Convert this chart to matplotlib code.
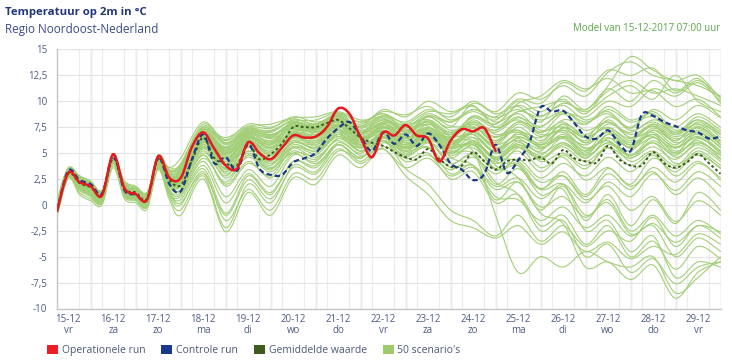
import numpy as np
import matplotlib
matplotlib.use("Agg")
import matplotlib.pyplot as plt
from matplotlib.path import Path
from matplotlib.patches import PathPatch, Patch

plt.rcParams['font.family'] = ['Open Sans', 'DejaVu Sans']

# ---------------- data ----------------
dates = ["15-12", "16-12", "17-12", "18-12", "19-12", "20-12", "21-12", "22-12",
         "23-12", "24-12", "25-12", "26-12", "27-12", "28-12", "29-12"]
weekdays = ["vr", "za", "zo", "ma", "di", "wo", "do", "vr",
            "za", "zo", "ma", "di", "wo", "do", "vr"]
y_ticks = [15, 12.5, 10, 7.5, 5, 2.5, 0, -2.5, -5, -7.5, -10]
y_labels = ["15", "12,5", "10", "7,5", "5", "2,5", "0", "-2,5", "-5", "-7,5", "-10"]

# hours since 15-12 00:00
hours = np.arange(6, 361, 6)

operational = [-0.6, 3.1, 2.2, 1.8, 0.9, 4.9, 1.6, 1.05, 0.5, 4.7, 2.6, 2.6,
               5.6, 7.0, 5.4, 3.8, 3.5, 6.05, 5.0, 4.4, 5.5, 6.7, 6.5, 6.6,
               7.5, 9.3, 8.8, 6.5, 4.6, 7.0, 6.7, 7.7, 6.7, 6.4, 4.2, 6.2,
               7.3, 7.1, 7.4, 5.2]

control = [-0.5, 3.3, 2.4, 2.0, 1.1, 4.7, 1.4, 1.0, 0.5, 4.6, 2.0, 1.3,
           4.4, 6.8, 4.0, 4.6, 3.3, 5.9, 3.5, 2.9, 2.9, 4.1, 4.5, 5.0,
           6.4, 7.4, 8.0, 6.6, 5.2, 7.0, 5.9, 6.8, 5.7, 6.9, 5.8, 4.0,
           3.4, 2.4, 3.0, 5.8, 3.1, 4.3, 6.0, 9.4, 9.0, 9.1, 7.9, 6.6,
           6.4, 7.2, 5.9, 5.2, 8.7, 8.6, 8.0, 7.6, 7.2, 7.0, 6.4, 6.6]

ens_mean = [-0.5, 3.0, 2.1, 1.7, 1.0, 4.5, 1.6, 1.2, 0.6, 4.4, 2.4, 1.9,
            4.3, 6.5, 4.5, 4.0, 3.8, 5.8, 4.4, 4.9, 5.9, 7.5, 7.5, 7.5,
            7.9, 8.2, 7.4, 6.5, 6.0, 5.7, 5.1, 4.6, 4.4, 5.4, 4.4, 3.7,
            3.8, 5.1, 4.2, 3.4, 4.2, 4.4, 4.3, 4.6, 4.0, 5.3, 4.5, 4.2,
            4.1, 5.7, 4.4, 3.8, 3.8, 5.1, 4.0, 3.6, 4.1, 4.9, 4.0, 3.0]

# scenario times: 6-hourly up to 18-12 00:00, then 12-hourly
scen_hours = [6, 12, 18, 24, 30, 36, 42, 48, 54, 60, 66, 72, 84, 96, 108, 120,
              132, 144, 156, 168, 180, 192, 204, 216, 228, 240, 252, 264, 276,
              288, 300, 312, 324, 336, 348, 360]

scenarios = [
    [-0.3, 3.2, 2.5, 1.9, 1.1, 4.6, 1.9, 1.3, 0.8, 4.5, 3.0, 3.5, 7.5, 5.8, 7.2, 7.0, 8.2, 7.8, 8.8, 7.5, 8.6, 8.0, 9.2, 8.5, 10.0, 9.0, 10.8, 10.2, 11.5, 10.5, 12.8, 13.8, 12.5, 12.0, 11.5, 10.5],
    [-0.6, 3.0, 2.2, 1.6, 0.8, 4.8, 1.5, 1.0, 0.4, 4.6, 2.8, 3.0, 7.0, 5.0, 6.8, 6.5, 8.0, 8.2, 8.9, 8.0, 9.0, 8.7, 9.5, 8.2, 9.2, 8.5, 10.2, 9.8, 11.8, 11.0, 13.0, 12.5, 13.2, 11.0, 12.2, 9.8],
    [0.2, 3.5, 2.7, 2.2, 1.3, 4.9, 2.1, 1.6, 1.0, 4.8, 3.4, 4.0, 7.8, 6.2, 7.5, 7.4, 8.5, 8.0, 8.4, 7.8, 8.8, 7.2, 8.5, 7.5, 9.8, 8.8, 9.5, 8.0, 10.5, 9.2, 11.2, 10.0, 12.0, 10.8, 12.0, 10.4],
    [-0.8, 2.8, 1.8, 1.2, 0.5, 4.3, 1.2, 0.8, 0.2, 4.2, 2.5, 2.8, 6.5, 4.8, 6.9, 6.0, 7.8, 7.5, 8.2, 7.0, 8.0, 7.8, 9.0, 8.8, 9.5, 8.0, 9.0, 9.5, 10.0, 9.0, 10.5, 11.5, 10.2, 12.5, 10.0, 9.0],
    [-0.2, 3.3, 2.5, 2.0, 1.1, 4.5, 1.8, 1.4, 0.9, 4.4, 3.3, 3.8, 7.2, 6.5, 7.6, 7.8, 8.4, 8.5, 9.0, 8.2, 8.4, 7.0, 8.0, 6.8, 8.5, 7.8, 9.8, 10.5, 12.0, 11.2, 12.2, 10.8, 11.0, 9.5, 10.2, 8.5],
    [-0.4, 3.1, 2.3, 1.7, 0.9, 4.7, 1.7, 1.2, 0.6, 4.7, 2.9, 3.2, 6.8, 5.5, 7.0, 7.2, 8.0, 7.2, 8.6, 7.6, 9.2, 8.5, 10.0, 9.0, 9.6, 7.5, 8.2, 7.0, 8.8, 8.5, 10.0, 9.5, 11.2, 10.5, 11.8, 10.0],
    [0.5, 3.6, 2.8, 2.3, 1.4, 4.4, 2.3, 1.8, 1.2, 4.0, 3.6, 4.5, 8.0, 6.0, 7.4, 6.8, 7.6, 7.0, 8.0, 6.5, 7.5, 6.8, 8.2, 7.0, 8.0, 7.2, 9.0, 8.5, 9.8, 9.2, 11.0, 12.0, 10.8, 11.2, 10.5, 9.6],
    [-1.0, 2.7, 1.6, 1.0, 0.3, 4.2, 1.0, 0.6, 0.1, 4.3, 2.2, 2.5, 6.2, 4.5, 6.5, 5.8, 7.5, 7.8, 8.5, 7.2, 8.2, 7.5, 8.8, 8.0, 9.0, 8.2, 10.0, 9.0, 10.2, 8.8, 11.5, 14.3, 13.0, 12.0, 12.5, 10.2],
    [-0.5, 3.0, 2.1, 1.5, 0.8, 4.5, 1.6, 1.1, 0.5, 4.5, 2.6, 2.8, 6.8, 4.8, 6.5, 5.5, 7.2, 7.0, 8.0, 6.2, 7.2, 5.8, 6.8, 5.5, 7.0, 5.8, 7.5, 6.2, 7.8, 6.0, 8.2, 6.5, 7.8, 6.2, 8.0, 6.5],
    [-0.7, 2.9, 2.0, 1.3, 0.6, 4.4, 1.4, 0.9, 0.3, 4.4, 2.2, 2.2, 6.0, 3.8, 6.0, 4.8, 6.8, 6.5, 7.8, 6.8, 7.8, 6.5, 7.2, 5.0, 6.2, 4.5, 6.0, 5.2, 7.5, 6.5, 8.5, 7.5, 9.0, 7.2, 8.2, 6.8],
    [-0.1, 3.3, 2.6, 2.0, 1.2, 4.8, 2.0, 1.5, 1.0, 4.6, 3.2, 3.6, 7.4, 6.0, 7.0, 6.8, 7.5, 7.4, 8.6, 6.5, 6.8, 5.5, 7.0, 6.0, 5.5, 4.2, 5.8, 4.8, 6.5, 5.2, 7.2, 5.8, 6.8, 5.0, 6.2, 4.5],
    [-0.9, 2.8, 1.7, 1.1, 0.4, 4.2, 1.2, 0.7, 0.2, 4.1, 2.0, 1.8, 5.5, 3.2, 5.8, 4.5, 7.0, 7.2, 8.2, 7.0, 8.5, 7.0, 7.8, 6.5, 8.2, 6.8, 7.2, 5.5, 6.8, 5.2, 6.5, 4.8, 6.2, 5.0, 7.0, 5.5],
    [-0.3, 3.1, 2.4, 1.8, 1.0, 4.6, 1.7, 1.2, 0.7, 4.5, 2.8, 3.0, 7.0, 5.2, 6.8, 6.2, 7.6, 7.5, 8.3, 7.2, 7.0, 6.0, 6.2, 4.0, 5.0, 3.5, 5.5, 4.5, 6.0, 4.8, 6.8, 5.5, 7.2, 5.8, 7.5, 6.0],
    [-0.6, 3.0, 2.0, 1.4, 0.7, 4.6, 1.5, 1.0, 0.4, 4.4, 2.5, 2.6, 6.4, 4.5, 6.6, 5.8, 7.4, 7.0, 8.0, 6.0, 7.8, 6.8, 8.5, 7.2, 7.8, 6.5, 8.0, 7.5, 9.0, 7.8, 9.5, 8.2, 8.8, 7.0, 8.5, 7.2],
    [0.0, 3.4, 2.6, 2.1, 1.3, 4.7, 2.1, 1.6, 1.1, 4.6, 3.1, 3.4, 7.2, 5.6, 7.3, 6.5, 7.8, 6.8, 7.6, 5.8, 6.5, 5.2, 6.8, 5.8, 7.5, 6.2, 8.0, 6.8, 7.0, 5.5, 6.2, 4.2, 5.2, 3.8, 5.5, 4.2],
    [-0.4, 3.2, 2.3, 1.7, 1.0, 4.5, 1.8, 1.3, 0.8, 4.6, 2.9, 3.1, 6.9, 5.0, 6.2, 5.0, 6.5, 5.8, 7.2, 6.2, 7.5, 6.0, 7.0, 5.8, 6.8, 5.0, 6.5, 5.8, 7.2, 6.2, 7.8, 7.0, 8.2, 7.5, 8.8, 7.5],
    [-0.8, 2.8, 1.8, 1.2, 0.4, 4.3, 1.3, 0.8, 0.2, 4.2, 2.1, 2.0, 5.8, 3.5, 5.5, 4.2, 6.2, 6.0, 7.5, 6.8, 8.0, 7.2, 8.0, 6.2, 7.0, 5.5, 6.8, 6.0, 7.8, 6.8, 8.0, 6.5, 7.0, 5.5, 6.5, 5.0],
    [-0.2, 3.2, 2.5, 1.9, 1.1, 4.8, 1.9, 1.4, 0.9, 4.7, 3.1, 3.3, 7.1, 5.4, 7.1, 6.6, 8.0, 7.6, 8.7, 7.4, 8.3, 7.0, 8.6, 7.6, 7.4, 5.5, 6.2, 4.2, 5.0, 3.8, 5.5, 4.5, 6.0, 4.0, 4.8, 3.6],
    [-0.5, 3.0, 2.1, 1.5, 0.7, 4.4, 1.5, 1.0, 0.5, 4.3, 2.4, 2.4, 6.3, 4.2, 6.4, 5.6, 7.2, 7.3, 8.4, 7.6, 8.6, 7.5, 7.6, 5.5, 6.5, 5.2, 7.0, 6.5, 8.2, 7.8, 9.2, 8.0, 8.5, 6.8, 7.8, 6.2],
    [-0.7, 2.9, 1.9, 1.3, 0.6, 4.5, 1.4, 0.9, 0.4, 4.5, 2.5, 2.7, 6.6, 4.9, 6.7, 5.9, 7.7, 7.4, 8.1, 6.4, 7.2, 5.5, 6.0, 4.5, 5.8, 4.0, 5.2, 3.2, 4.8, 3.5, 5.8, 4.8, 6.5, 5.2, 6.0, 4.8],
    [0.3, 3.5, 2.8, 2.2, 1.4, 4.6, 2.2, 1.7, 1.2, 4.4, 3.6, 3.9, 7.6, 6.3, 7.8, 7.5, 8.3, 7.8, 8.5, 7.0, 7.6, 6.2, 7.4, 6.8, 8.4, 7.5, 8.8, 7.2, 7.5, 6.0, 7.0, 5.5, 6.5, 5.5, 7.2, 5.8],
    [-0.6, 2.9, 2.0, 1.4, 0.6, 4.3, 1.4, 0.9, 0.3, 4.1, 1.8, 1.5, 5.0, 2.8, 5.2, 3.8, 6.0, 5.5, 7.0, 6.0, 7.2, 6.4, 7.8, 7.0, 8.0, 7.2, 8.5, 7.0, 8.0, 6.5, 7.5, 6.2, 7.8, 6.8, 8.2, 7.0],
    [-0.3, 3.1, 2.4, 1.8, 1.0, 4.7, 1.7, 1.2, 0.7, 4.6, 2.9, 3.2, 7.0, 5.5, 7.0, 6.4, 7.4, 6.6, 7.4, 5.5, 6.5, 5.0, 6.2, 5.6, 7.2, 6.6, 7.0, 5.6, 6.4, 4.8, 6.0, 5.2, 7.2, 6.2, 7.6, 5.8],
    [-0.9, 2.7, 1.6, 1.0, 0.3, 4.2, 1.0, 0.6, 0.0, 4.0, 1.5, 1.2, 4.5, 2.2, 4.8, 3.5, 5.8, 5.2, 6.8, 5.6, 6.8, 5.8, 7.0, 6.0, 7.4, 6.2, 7.2, 5.8, 6.6, 5.0, 6.8, 5.8, 7.4, 6.4, 7.0, 5.6],
    [-0.4, 3.2, 2.2, 1.6, 0.8, 4.6, 1.6, 1.1, 0.6, 4.5, 2.7, 2.9, 6.7, 5.1, 6.9, 6.1, 7.9, 7.7, 8.8, 8.0, 8.8, 7.8, 8.2, 6.6, 6.8, 5.0, 5.8, 4.6, 5.6, 4.2, 5.5, 3.8, 5.0, 3.5, 5.2, 3.8],
    [-0.1, 3.3, 2.6, 2.0, 1.2, 4.8, 2.0, 1.5, 1.0, 4.8, 3.3, 3.7, 7.3, 5.9, 7.4, 7.1, 8.1, 7.3, 8.0, 6.6, 7.0, 5.8, 7.2, 6.4, 7.8, 7.0, 8.4, 7.6, 8.8, 7.2, 8.0, 6.8, 7.6, 6.0, 6.8, 5.2],
    [-0.6, 3.0, 2.1, 1.5, 0.7, 4.5, 1.5, 1.0, 0.5, 4.4, 2.4, 2.5, 6.5, 4.6, 6.3, 5.4, 6.9, 6.4, 7.6, 6.2, 7.4, 6.5, 7.5, 6.2, 6.8, 5.2, 6.4, 5.0, 6.0, 4.5, 6.4, 5.6, 6.8, 5.6, 6.6, 5.0],
    [-0.5, 3.1, 2.2, 1.6, 0.8, 4.6, 1.6, 1.1, 0.6, 4.5, 2.8, 3.0, 6.9, 5.3, 7.2, 6.7, 7.9, 7.1, 7.8, 6.8, 8.0, 7.4, 8.6, 8.0, 9.2, 8.4, 9.2, 8.2, 9.0, 8.0, 8.8, 7.2, 8.0, 7.0, 7.8, 6.8],
    [-0.2, 3.2, 2.4, 1.8, 1.0, 4.5, 1.8, 1.3, 0.8, 4.3, 2.7, 2.8, 6.2, 4.2, 5.8, 4.6, 6.4, 6.2, 7.6, 6.8, 7.9, 6.6, 6.8, 5.2, 6.0, 4.6, 6.2, 5.4, 6.6, 5.8, 7.0, 6.0, 6.6, 4.6, 5.8, 4.4],
    [-0.8, 2.8, 1.8, 1.2, 0.5, 4.4, 1.3, 0.8, 0.3, 4.3, 2.3, 2.3, 6.1, 4.0, 6.1, 5.2, 7.0, 6.8, 8.0, 7.0, 8.2, 7.2, 8.0, 6.8, 7.6, 6.0, 7.8, 6.6, 7.2, 5.4, 6.2, 4.6, 5.6, 4.4, 6.0, 4.8],
    [-0.4, 3.1, 2.3, 1.7, 0.9, 4.7, 1.7, 1.2, 0.7, 4.6, 2.9, 3.1, 6.8, 5.2, 6.6, 5.5, 6.6, 6.0, 7.0, 5.2, 6.2, 4.8, 6.4, 5.6, 7.0, 5.8, 6.6, 5.8, 7.4, 6.6, 7.4, 6.4, 7.6, 6.6, 7.4, 6.2],
    [-0.3, 3.0, 2.1, 1.5, 0.8, 4.4, 1.5, 1.0, 0.5, 4.2, 2.2, 2.0, 5.6, 3.6, 6.0, 5.0, 6.7, 6.6, 7.7, 6.4, 7.6, 6.2, 7.2, 6.6, 8.6, 7.8, 9.6, 8.6, 9.6, 8.2, 9.0, 7.4, 9.2, 8.2, 9.6, 8.4],
    [-0.5, 3.0, 2.2, 1.6, 0.8, 4.6, 1.6, 1.1, 0.6, 4.4, 2.5, 2.6, 6.4, 4.4, 6.2, 5.2, 7.0, 6.2, 7.2, 5.8, 6.6, 5.4, 6.6, 5.0, 6.2, 4.4, 5.6, 4.4, 5.8, 4.6, 6.0, 4.8, 6.0, 4.8, 6.4, 5.2],
    [-0.7, 2.9, 1.8, 1.2, 0.4, 4.2, 1.1, 0.6, 0.0, 3.8, 1.2, 0.5, 3.5, -0.8, 2.8, 1.0, 4.2, 3.8, 6.0, 5.0, 6.5, 5.5, 6.2, 4.0, 4.8, 2.0, 3.5, 1.5, 3.2, 1.0, 3.5, 2.0, 4.5, 3.2, 5.0, 3.5],
    [-1.0, 2.6, 1.2, 0.6, 0.2, 3.8, 0.8, 0.4, -0.2, 3.5, 0.8, -0.5, 2.8, -2.2, 2.0, 0.2, 3.8, 3.2, 5.8, 4.2, 6.0, 4.8, 5.5, 3.0, 3.8, 0.5, 2.2, -0.5, 1.8, -1.5, 1.0, -2.0, 0.5, -1.8, 1.2, -0.5],
    [-0.9, 2.7, 1.4, 0.8, 0.2, 4.0, 0.9, 0.5, -0.1, 3.6, 1.0, 0.0, 3.2, -1.5, 1.5, -0.5, 3.0, 2.5, 5.2, 4.5, 6.2, 3.5, 2.0, -0.5, -1.5, -3.0, -1.0, -3.5, -2.0, -4.0, -2.5, -3.5, -1.2, -4.0, -2.0, -3.2],
    [-0.6, 3.0, 1.9, 1.3, 0.6, 4.4, 1.4, 0.9, 0.3, 4.0, 1.8, 1.5, 4.8, 1.8, 4.0, 2.8, 5.5, 5.0, 6.8, 5.8, 6.6, 4.5, 5.0, 2.5, 3.2, 0.2, 1.0, -2.0, -1.0, -3.8, -2.0, -5.0, -3.5, -6.2, -4.0, -5.2],
    [-0.4, 3.1, 2.2, 1.6, 0.8, 4.5, 1.5, 1.0, 0.4, 4.3, 2.4, 2.4, 6.0, 3.8, 5.6, 4.0, 5.5, 4.6, 6.2, 4.8, 5.4, 3.6, 4.5, 2.8, 3.6, 1.5, 2.2, -0.2, 0.8, -1.2, 0.5, -2.5, -1.0, -3.0, -1.5, -2.8],
    [-0.8, 2.8, 1.7, 1.1, 0.4, 4.3, 1.2, 0.7, 0.1, 4.0, 1.4, 1.0, 4.2, 0.8, 3.4, 1.8, 4.8, 4.2, 6.4, 5.2, 6.8, 5.6, 6.8, 5.4, 6.0, 3.5, 4.0, 1.5, 2.0, -1.0, 0.2, -2.8, -2.0, -5.0, -3.2, -4.5],
    [-0.5, 3.0, 2.0, 1.4, 0.6, 4.4, 1.3, 0.8, 0.2, 4.1, 2.0, 1.8, 5.2, 2.6, 4.6, 3.2, 5.2, 4.4, 6.4, 5.5, 7.0, 6.2, 7.4, 6.0, 6.5, 4.2, 3.8, 1.0, 1.5, -2.5, -1.5, -4.5, -3.0, -7.0, -5.5, -6.0],
    [-0.7, 2.9, 1.8, 1.2, 0.5, 4.3, 1.3, 0.8, 0.2, 4.2, 2.1, 2.0, 5.4, 3.0, 4.8, 3.4, 5.6, 5.2, 6.6, 5.8, 6.8, 6.0, 6.6, 4.8, 5.2, -1.0, -6.5, -5.0, -6.0, -4.5, -5.5, -6.0, -5.0, -8.5, -7.0, -5.0],
    [-0.3, 3.2, 2.3, 1.7, 0.9, 4.6, 1.7, 1.2, 0.7, 4.4, 2.5, 2.6, 6.0, 4.0, 5.6, 4.4, 6.0, 5.6, 7.0, 6.2, 7.4, 6.4, 7.0, 5.2, 5.0, 2.2, 1.0, -2.5, -1.5, -5.0, -3.8, -6.5, -5.2, -7.6, -6.0, -5.5],
    [-0.6, 3.0, 1.9, 1.3, 0.6, 4.4, 1.4, 0.9, 0.3, 4.3, 2.2, 2.2, 5.8, 3.4, 5.0, 3.6, 5.0, 4.0, 5.8, 4.6, 6.4, 5.6, 6.8, 6.2, 6.2, 4.6, 4.2, 2.2, 2.8, 0.5, 1.8, -0.5, 0.8, -1.6, 0.4, -1.0],
    [-0.9, 2.7, 1.5, 0.9, 0.2, 4.1, 1.0, 0.5, -0.1, 3.7, 1.2, 0.8, 3.8, 0.2, 3.0, 1.2, 4.2, 3.6, 5.8, 4.6, 6.2, 5.2, 6.4, 5.5, 5.8, 3.8, 2.6, -0.8, -1.8, -6.0, -5.5, -7.2, -5.8, -9.0, -6.5, -5.5],
    [-0.2, 3.2, 2.4, 1.8, 1.0, 4.6, 1.8, 1.3, 0.8, 4.5, 2.8, 2.9, 6.4, 4.6, 6.0, 4.8, 6.2, 5.4, 6.8, 5.6, 6.6, 5.2, 5.6, 3.6, 3.8, 1.8, 2.6, 0.6, 2.0, 0.2, 2.2, 0.8, 3.0, 1.4, 3.2, 1.8],
    [-0.5, 3.0, 2.1, 1.5, 0.7, 4.5, 1.5, 1.0, 0.4, 4.2, 2.2, 2.2, 5.6, 3.2, 5.2, 4.0, 6.0, 5.8, 7.2, 6.6, 7.6, 6.8, 7.2, 5.6, 5.8, 3.4, 3.8, 1.6, 2.8, 0.8, 3.0, 1.5, 3.6, 2.2, 4.0, 2.6],
    [-0.7, 2.8, 1.6, 1.0, 0.3, 4.2, 1.1, 0.6, 0.0, 3.9, 1.2, 0.2, 3.0, -1.0, 2.4, 0.6, 3.6, 3.0, 5.4, 4.0, 5.4, 2.8, 1.0, -1.5, -2.2, -3.2, -2.0, -3.8, -2.6, -4.5, -3.6, -5.2, -4.0, -4.8, -2.8, -3.8],
    [-0.4, 3.1, 2.2, 1.6, 0.8, 4.6, 1.6, 1.1, 0.6, 4.4, 2.6, 2.8, 6.6, 5.0, 6.4, 5.8, 7.0, 6.6, 7.6, 6.8, 7.8, 7.0, 7.2, 4.6, 3.8, 0.8, 0.5, -1.5, -0.2, -2.2, -1.0, -3.0, -1.8, -3.6, -2.0, -2.6],
    [-0.6, 2.9, 2.0, 1.4, 0.7, 4.4, 1.5, 1.0, 0.4, 4.2, 1.8, 1.4, 4.8, 2.0, 4.2, 2.6, 5.0, 4.8, 6.6, 5.2, 6.2, 4.2, 4.8, 3.4, 4.6, 3.0, 4.4, 2.6, 4.0, 2.8, 4.6, 3.2, 4.8, 2.8, 4.2, 2.4],
    [-1.1, 2.6, 1.0, 0.4, 0.0, 3.6, 0.6, 0.2, -0.4, 3.4, 0.5, -1.0, 2.5, -2.6, 1.2, -1.0, 2.6, 2.0, 4.8, 3.6, 5.6, 4.6, 6.0, 5.0, 6.0, 4.4, 5.6, 3.6, 4.6, 2.4, 3.6, 1.8, 3.2, 1.0, 2.6, 0.8],
]

legend_labels = ["Operationele run", "Controle run", "Gemiddelde waarde", "50 scenario's"]

# ---------------- styling ----------------
C_RED = '#e5191f'
C_BLUE = '#1d3a87'
C_MEAN = '#3b5a20'
C_SCEN = '#a3cf78'
C_TICK = '#4e5c85'


def spline_path(xs, ys):
    """Cubic Bezier path through the data points (Highcharts-like spline)."""
    xs = np.asarray(xs, float)
    ys = np.asarray(ys, float)
    n = len(xs)
    verts = [(xs[0], ys[0])]
    codes = [Path.MOVETO]
    for i in range(n - 1):
        xp, yp = (xs[i - 1], ys[i - 1]) if i > 0 else (xs[i], ys[i])
        xn, yn = (xs[i + 2], ys[i + 2]) if i + 2 < n else (xs[i + 1], ys[i + 1])
        c1 = (xs[i] + (xs[i + 1] - xp) / 6.0, ys[i] + (ys[i + 1] - yp) / 6.0)
        c2 = (xs[i + 1] - (xn - xs[i]) / 6.0, ys[i + 1] - (yn - ys[i]) / 6.0)
        verts += [c1, c2, (xs[i + 1], ys[i + 1])]
        codes += [Path.CURVE4] * 3
    return Path(verts, codes)


def draw_series(ax, xs, ys, capstyle='round', **kw):
    n = min(len(xs), len(ys))
    patch = PathPatch(spline_path(xs[:n], ys[:n]), fill=False,
                      transform=ax.transData, capstyle=capstyle,
                      joinstyle='round', **kw)
    ax.add_patch(patch)
    return patch


fig = plt.figure(figsize=(7.32, 3.61), dpi=100)
ax = fig.add_axes([57 / 732, 1 - 308.5 / 361, (720.5 - 57) / 732, (308.5 - 49.5) / 361])

ax.set_xlim(6, 360)
ax.set_ylim(-10, 15)

# grid
noon_hours = [24 * i + 12 for i in range(len(dates))]
midnight_hours = [24 * (i + 1) for i in range(len(dates))]
ax.set_xticks(noon_hours)
ax.set_xticklabels([f"{d}\n{w}" for d, w in zip(dates, weekdays)])
ax.set_xticks(hours, minor=True)
ax.set_yticks(y_ticks)
ax.set_yticklabels(y_labels)
ax.grid(which='minor', axis='x', color='#ececec', lw=0.8, zorder=0)
ax.grid(which='major', axis='y', color='#e4e4e4', lw=0.8, zorder=0)
ax.vlines(midnight_hours, -10, 15, colors='#cfcfcf', lw=1.0, zorder=0.5)

for s in ['top', 'right']:
    ax.spines[s].set_visible(False)
for s in ['left', 'bottom']:
    ax.spines[s].set_color('#c6c6c6')
    ax.spines[s].set_linewidth(1.0)

ax.tick_params(axis='both', which='both', length=0, colors=C_TICK, labelsize=7)
ax.tick_params(axis='x', pad=4)
ax.tick_params(axis='y', pad=7)
for lab in ax.get_xticklabels():
    lab.set_linespacing(1.05)

# series
for sc in scenarios:
    draw_series(ax, scen_hours, sc, edgecolor=C_SCEN, lw=0.8, zorder=2)
draw_series(ax, hours, ens_mean, capstyle='butt', edgecolor=C_MEAN, lw=1.4,
            linestyle=(0, (1.4, 1.3)), zorder=3)
draw_series(ax, hours, control, capstyle='butt', edgecolor=C_BLUE, lw=1.6,
            linestyle=(0, (2.4, 1.4)), zorder=4)
draw_series(ax, hours, operational, edgecolor=C_RED, lw=1.8, zorder=5)

# titles
fig.text(5 / 732, 1 - 12 / 361, "Temperatuur op 2m in °C", fontsize=8.2,
         fontweight='bold', color='#22367a', va='center', ha='left')
fig.text(5 / 732, 1 - 29.5 / 361, "Regio Noordoost-Nederland", fontsize=8.5,
         color='#3b4c88', va='center', ha='left')
fig.text(720 / 732, 1 - 28.5 / 361, "Model van 15-12-2017 07:00 uur", fontsize=7,
         color='#5aa646', va='center', ha='right')

# legend
handles = [Patch(facecolor=c, edgecolor='none')
           for c in ['#ee1c24', '#1a398c', '#3d5c1e', '#9dcc6b']]
fig.legend(handles, legend_labels, loc='center left',
           bbox_to_anchor=(47 / 732, 1 - 350.5 / 361), ncol=4, frameon=False,
           handlelength=1.05, handleheight=1.05, handletextpad=0.35,
           columnspacing=1.55, borderpad=0, borderaxespad=0,
           prop={'size': 7.5}, labelcolor='#4b5878')

fig.savefig("out.png", dpi=100)
